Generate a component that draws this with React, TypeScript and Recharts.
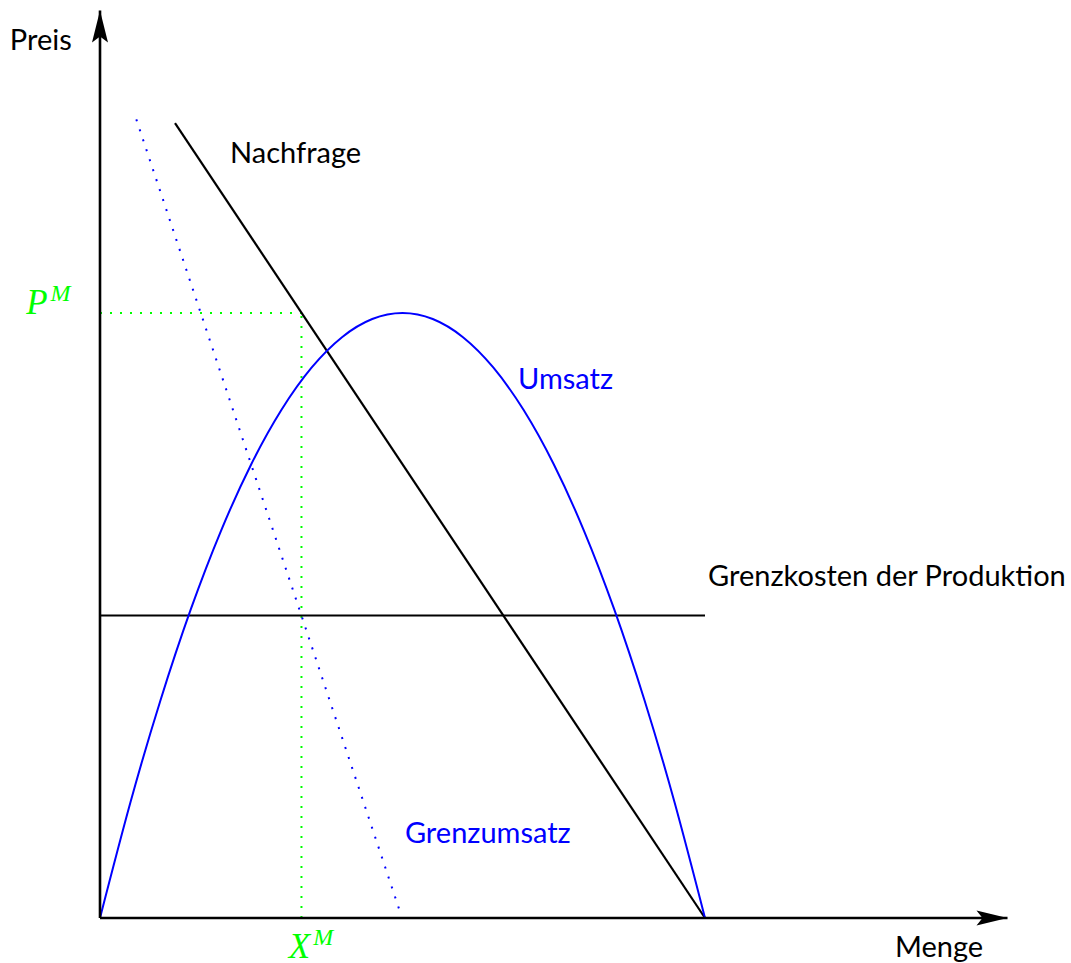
import { ComposedChart, Line, Scatter, XAxis, YAxis, ReferenceDot } from 'recharts'

// Achsen (Datenkoordinaten 0..15)
const xAxisLine = [{ x: 0, y: 0 }, { x: 15, y: 0 }]
const yAxisLine = [{ x: 0, y: 0 }, { x: 0, y: 15 }]
const arrowTips = [
  { x: 15, y: 0, dir: 'right' },
  { x: 0, y: 15, dir: 'up' },
]

// Kurven
const nachfrage = [{ x: 1.24, y: 13.14 }, { x: 10, y: 0 }]
const grenzumsatz = [{ x: 0.6, y: 13.2 }, { x: 4.96, y: 0.1 }]
const grenzkosten = [{ x: 0, y: 5 }, { x: 10, y: 5 }]
const umsatzX = [0, 0.5, 1, 1.5, 2, 2.5, 3, 3.5, 4, 4.5, 5, 5.5, 6, 6.5, 7, 7.5, 8, 8.5, 9, 9.5, 10]
const umsatzY = [0, 1.9, 3.6, 5.1, 6.4, 7.5, 8.4, 9.1, 9.6, 9.9, 10, 9.9, 9.6, 9.1, 8.4, 7.5, 6.4, 5.1, 3.6, 1.9, 0]
const umsatz = umsatzX.map((x, i) => ({ x, y: umsatzY[i] }))

// Monopol-Punkt
const pmLine = [{ x: 0, y: 10 }, { x: 3.33, y: 10 }]
const xmLine = [{ x: 3.33, y: 0 }, { x: 3.33, y: 10 }]

// Beschriftungen
const labels = [
  { key: 'preis', text: 'Preis', x: -1.49, y: 14.35 },
  { key: 'menge', text: 'Menge', x: 13.14, y: -0.64 },
  { key: 'nachfrage', text: 'Nachfrage', x: 2.15, y: 12.48 },
  { key: 'umsatz', text: 'Umsatz', x: 6.91, y: 8.74 },
  { key: 'grenzkosten', text: 'Grenzkosten der Produktion', x: 10.05, y: 5.49 },
  { key: 'grenzumsatz', text: 'Grenzumsatz', x: 5.04, y: 1.24 },
]
const mathLabels = [
  { key: 'pm', base: 'P', sup: 'M', x: -1.22, y: 9.98 },
  { key: 'xm', base: 'X', sup: 'M', x: 3.12, y: -0.66 },
]

const BLUE = '#0000ff'
const GREEN = '#00ff00'
const LABEL_COLOR: Record<string, string> = {
  umsatz: BLUE,
  grenzumsatz: BLUE,
}

function Arrow(props: any) {
  const { cx, cy, payload } = props
  if (cx == null || cy == null) return null
  const pts =
    payload.dir === 'up'
      ? `${cx},${cy} ${cx + 8},${cy + 32} ${cx},${cy + 26} ${cx - 8},${cy + 32}`
      : `${cx},${cy} ${cx - 31},${cy + 7.5} ${cx - 25},${cy} ${cx - 31},${cy - 7.5}`
  return <polygon points={pts} fill="#000" />
}

export default function App() {
  return (
    <div style={{ position: 'absolute', left: 0, top: 0, fontFamily: 'Lato, sans-serif' }}>
      <ComposedChart
        width={1071}
        height={963}
        margin={{ top: 10.5, right: 63.5, bottom: 45, left: 100 }}
      >
        <XAxis type="number" dataKey="x" domain={[0, 15]} tickCount={4} hide />
        <YAxis type="number" dataKey="y" domain={[0, 15]} tickCount={4} hide />

        <Line data={pmLine} dataKey="y" stroke={GREEN} strokeWidth={2} strokeDasharray="2 8" dot={false} isAnimationActive={false} />
        <Line data={xmLine} dataKey="y" stroke={GREEN} strokeWidth={2} strokeDasharray="2 8" dot={false} isAnimationActive={false} />
        <Line data={grenzkosten} dataKey="y" stroke="#000" strokeWidth={2} dot={false} isAnimationActive={false} />
        <Line data={nachfrage} dataKey="y" stroke="#000" strokeWidth={2.2} dot={false} isAnimationActive={false} />
        <Line data={grenzumsatz} dataKey="y" stroke={BLUE} strokeWidth={2} strokeDasharray="2 8.5" dot={false} isAnimationActive={false} />
        <Line data={umsatz} dataKey="y" type="natural" stroke={BLUE} strokeWidth={2} dot={false} isAnimationActive={false} />

        <Line data={xAxisLine} dataKey="y" stroke="#000" strokeWidth={2.6} dot={false} isAnimationActive={false} />
        <Line data={yAxisLine} dataKey="y" stroke="#000" strokeWidth={2.6} dot={false} isAnimationActive={false} />
        <Scatter data={arrowTips} shape={<Arrow />} isAnimationActive={false} />

        {labels.map((l) => (
          <ReferenceDot
            key={l.key}
            x={l.x}
            y={l.y}
            r={0}
            ifOverflow="visible"
            shape={(p: any) => (
              <text
                x={p.cx}
                y={p.cy}
                fill={LABEL_COLOR[l.key] ?? '#000'}
                fontFamily="Lato, sans-serif"
                fontSize={29}
              >
                {l.text}
              </text>
            )}
          />
        ))}
        {mathLabels.map((l) => (
          <ReferenceDot
            key={l.key}
            x={l.x}
            y={l.y}
            r={0}
            ifOverflow="visible"
            shape={(p: any) => (
              <text x={p.cx} y={p.cy} fill={GREEN} fontFamily="'Liberation Serif', serif" fontStyle="italic">
                <tspan fontSize={35}>{l.base}</tspan>
                <tspan fontSize={24} dx={3} dy={-13}>
                  {l.sup}
                </tspan>
              </text>
            )}
          />
        ))}
      </ComposedChart>
    </div>
  )
}
